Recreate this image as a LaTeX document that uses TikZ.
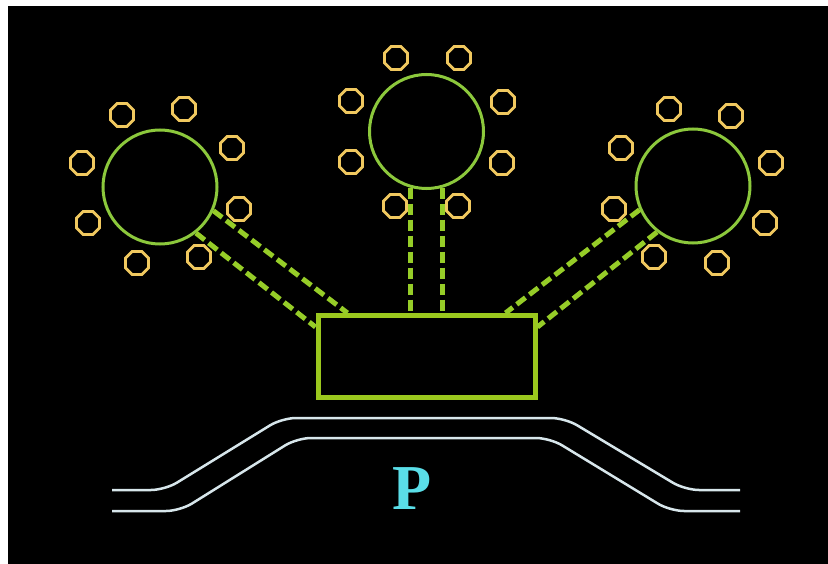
\documentclass[tikz,border=0pt]{standalone}
\usepackage{fontspec}
\setmainfont{Liberation Serif}
\usetikzlibrary{shapes.geometric,calc}
\definecolor{ring}{RGB}{140,200,60}
\definecolor{dashg}{RGB}{150,205,40}
\definecolor{boxg}{RGB}{155,200,30}
\definecolor{pad}{RGB}{240,200,95}
\definecolor{trace}{RGB}{215,230,235}
\definecolor{pcyan}{RGB}{90,222,232}
\tikzset{
  bigring/.style={circle,draw=ring,line width=3pt,minimum size=114pt,inner sep=0pt},
  padoct/.style={regular polygon,regular polygon sides=8,draw=pad,line width=2.8pt,minimum size=25pt,inner sep=0pt},
  dashlink/.style={draw=dashg,line width=5pt,dash pattern=on 11pt off 5pt},
  chipbox/.style={draw=boxg,line width=5pt,minimum width=217pt,minimum height=82pt,inner sep=0pt},
  tracel/.style={draw=trace,line width=2.5pt,rounded corners=14pt},
}
\begin{document}
\begin{tikzpicture}[x=1pt,y=-1pt]
\useasboundingbox (0,0) rectangle (828,564);
\fill[black] (8,6) rectangle (828,564);
% big circles
\node[bigring] (L) at (160,187) {};
\node[bigring] (C) at (426.5,131.5) {};
\node[bigring] (Rt) at (693,186) {};
% pads
\foreach \n/\x/\y in {l1/122/115,l2/184/109,l3/232/148,l4/82/163,l5/239/209,l6/88/223,l7/137/263,l8/199/257,
  c1/396/58,c2/459/58,c3/351/101,c4/503/102,c5/351/162,c6/502/163,c7/395/206,c8/458/206,
  r1/669/109,r2/731/116,r3/621/148,r4/771/163,r5/614/209,r6/765/223,r7/654/257,r8/717/263}
  \node[padoct] (\n) at (\x,\y) {};
% box
\node[chipbox] (box) at (426.5,356.5) {};
\coordinate (bl1) at ($(box.north west)+(32,0)$);
\coordinate (bl2) at ($(box.north west)+(0,14)$);
\coordinate (br1) at ($(box.north east)+(-32,0)$);
\coordinate (br2) at ($(box.north east)+(0,14)$);
% dashed links
\draw[dashlink] (L.-24) -- (bl1);
\draw[dashlink] (L.-52) -- (bl2);
\draw[dashlink] (Rt.204) -- (br1);
\draw[dashlink] (Rt.232) -- (br2);
\draw[dashlink] (C.-106) -- (C.-106 |- box.north);
\draw[dashlink] (C.-74) -- (C.-74 |- box.north);
% traces
\coordinate (t1s) at (112,490);
\coordinate (t1e) at (740,490);
\coordinate (t2s) at (112,511);
\coordinate (t2e) at (740,511);
\draw[tracel] (t1s) -- (165,490) -- (282,418) -- (565,418) -- (685,490) -- (t1e);
\draw[tracel] (t2s) -- (180,511) -- (297,438) -- (550,438) -- (670,511) -- (t2e);
\node[text=pcyan,font=\fontsize{64}{64}\selectfont\bfseries] (P) at (412,489) {P};
\end{tikzpicture}
\end{document}
